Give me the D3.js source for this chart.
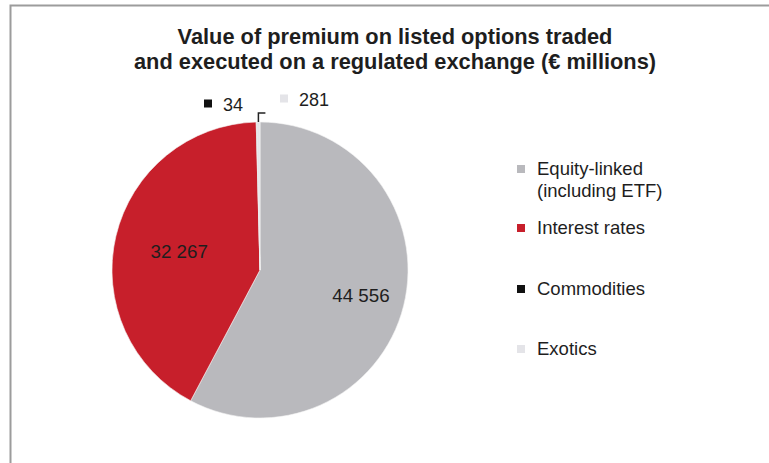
<!DOCTYPE html>
<html>
<head>
<meta charset="utf-8">
<script src="https://cdn.jsdelivr.net/npm/d3@7"></script>
<style>
  html, body { margin: 0; padding: 0; background: #fff; }
  svg { display: block; }
  text { font-family: "Liberation Sans", Arial, Helvetica, sans-serif; fill: #1e1e1e; }
</style>
</head>
<body>
<svg id="chart" width="769" height="463"></svg>
<script>
// Premium on listed options, by underlying (€ millions)
const categories = ["Equity-linked", "Interest rates", "Commodities", "Exotics"];
const legendLabels = [["Equity-linked", "(including ETF)"], ["Interest rates"], ["Commodities"], ["Exotics"]];
const values = [44556, 32267, 34, 281];
const colors = ["#b9b9bd", "#c71f2b", "#111111", "#e4e4e8"];
const titleLines = [
  "Value of premium on listed options traded",
  "and executed on a regulated exchange (€ millions)"
];

const W = 769, H = 463;
const svg = d3.select("#chart");

// frame (top and left edges)
svg.append("path")
  .attr("d", `M10.5,${H} V5.5 H${W}`)
  .attr("fill", "none")
  .attr("stroke", "#9c9c9c")
  .attr("stroke-width", 2);

// title
const title = svg.append("text")
  .attr("text-anchor", "middle")
  .style("font-weight", "bold")
  .style("font-size", "21.8px");
titleLines.forEach((t, i) => {
  title.append("tspan").attr("x", 395).attr("y", 44 + i * 25).text(t);
});

// number format with a space as thousands separator
const fmt = d3.formatLocale({ decimal: ",", thousands: " ", grouping: [3], currency: ["", " €"] }).format(",d");

// pie
const cx = 260, cy = 270, r = 148;
const pie = d3.pie().sort(null).value(d => d.value).startAngle(0).endAngle(2 * Math.PI);
const data = categories.map((c, i) => ({ name: c, value: values[i], color: colors[i] }));
const arcs = pie(data);
const arc = d3.arc().innerRadius(0).outerRadius(r);

const g = svg.append("g").attr("transform", `translate(${cx},${cy})`);
g.selectAll("path.slice")
  .data(arcs)
  .join("path")
  .attr("class", "slice")
  .attr("d", arc)
  .attr("fill", d => d.data.color)
  .attr("stroke", "#f4f4f4")
  .attr("stroke-width", 0.6);

// inside labels for the two large slices
const insideRadius = { "Equity-linked": 104, "Interest rates": 83 };
arcs.filter(d => insideRadius[d.data.name]).forEach(d => {
  const a = (d.startAngle + d.endAngle) / 2;
  const rr = insideRadius[d.data.name];
  g.append("text")
    .attr("x", Math.sin(a) * rr)
    .attr("y", -Math.cos(a) * rr)
    .attr("dy", "0.35em")
    .attr("text-anchor", "middle")
    .style("font-size", "18.8px")
    .text(fmt(d.data.value));
});

// outside labels for the two thin slices near the top
const small = arcs.filter(d => !insideRadius[d.data.name]);
const com = small[0], exo = small[1];
const aCom = (com.startAngle + com.endAngle) / 2;
const edge = [Math.sin(aCom) * r, -Math.cos(aCom) * r];
g.append("path")
  .attr("d", `M${edge[0] + 2},${edge[1]} V${-157} H${edge[0] + 9}`)
  .attr("fill", "none")
  .attr("stroke", "#222")
  .attr("stroke-width", 1.5);

function outsideLabel(d, x, y) {
  g.append("rect")
    .attr("x", x).attr("y", y - 11.5)
    .attr("width", 8).attr("height", 8)
    .attr("fill", d.data.color);
  g.append("text")
    .attr("x", x + 19).attr("y", y)
    .style("font-size", "18px")
    .text(fmt(d.data.value));
}
outsideLabel(com, -56, -159);
outsideLabel(exo, 20, -164);

// legend
const legend = svg.append("g").attr("transform", "translate(517,0)");
const legendY = [175, 234, 295, 355];
categories.forEach((c, i) => {
  const y = legendY[i];
  legend.append("rect")
    .attr("x", 0).attr("y", y - 10)
    .attr("width", 8).attr("height", 8)
    .attr("fill", colors[i]);
  const t = legend.append("text").style("font-size", "18.5px");
  legendLabels[i].forEach((line, j) => {
    t.append("tspan").attr("x", 20).attr("y", y + j * 22).text(line);
  });
});
</script>
</body>
</html>
